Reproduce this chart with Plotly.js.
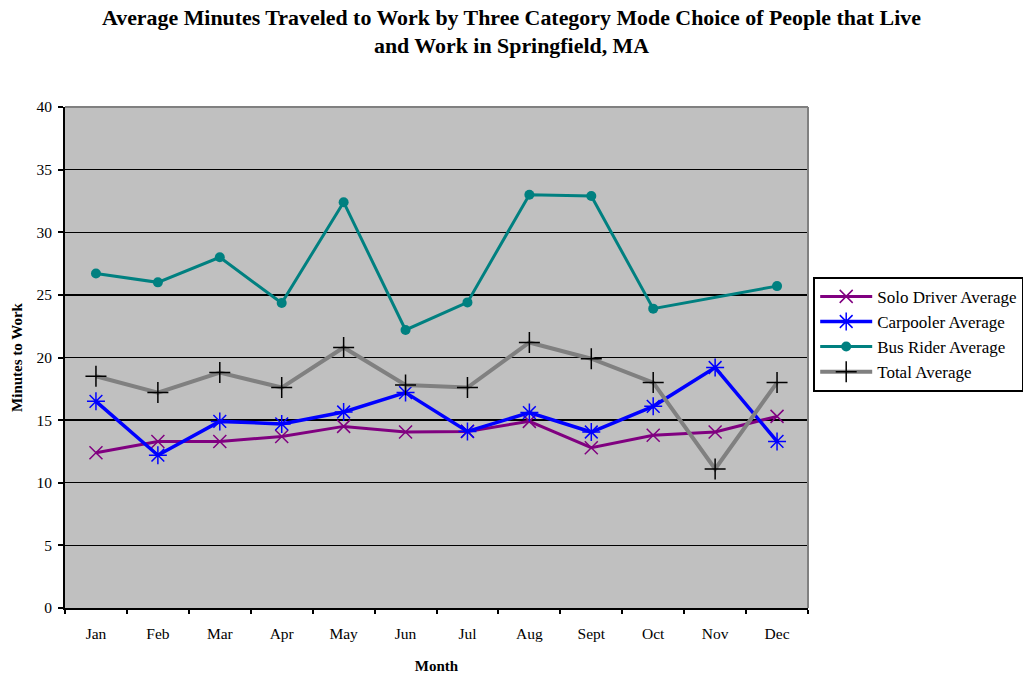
<!DOCTYPE html>
<html>
<head>
<meta charset="utf-8">
<script src="https://cdn.plot.ly/plotly-3.0.1.min.js"></script>
<style>
  html, body { margin: 0; padding: 0; background: #ffffff; }
  #chart { width: 1023px; height: 675px; }
</style>
</head>
<body>
<div id="chart"></div>
<script>
// Monthly averages of commute minutes by mode choice
const months = ["Jan", "Feb", "Mar", "Apr", "May", "Jun", "Jul", "Aug", "Sept", "Oct", "Nov", "Dec"];
const soloDriver = [12.4, 13.3, 13.3, 13.7, 14.5, 14.05, 14.1, 14.9, 12.8, 13.8, 14.05, 15.3];
const carpooler  = [16.5, 12.2, 14.9, 14.7, 15.65, 17.2, 14.1, 15.6, 14.05, 16.1, 19.2, 13.3];
const busRider   = [26.7, 26.0, 28.0, 24.35, 32.4, 22.2, 24.4, 33.0, 32.9, 23.9, null, 25.7];
const totalAvg   = [18.5, 17.2, 18.8, 17.6, 20.8, 17.8, 17.6, 21.2, 19.9, 18.0, 11.1, 18.0];
const yTicks = [0, 5, 10, 15, 20, 25, 30, 35, 40];

const serif = "Liberation Serif, Times New Roman, serif";

const traces = [
  {
    name: "Solo Driver Average", x: months, y: soloDriver, mode: "lines+markers",
    line: { color: "#800080", width: 3 },
    marker: { symbol: "x-thin-open", size: 13, color: "#800080", line: { color: "#800080", width: 1.5 } }
  },
  {
    name: "Carpooler Average", x: months, y: carpooler, mode: "lines+markers",
    line: { color: "#0000FF", width: 3.5 },
    marker: { symbol: "asterisk-open", size: 15, color: "#0000FF", line: { color: "#0000FF", width: 1.5 } }
  },
  {
    name: "Bus Rider Average", x: months, y: busRider, mode: "lines+markers", connectgaps: true,
    line: { color: "#008080", width: 3 },
    marker: { symbol: "circle", size: 10, color: "#008080" }
  },
  {
    name: "Total Average", x: months, y: totalAvg, mode: "lines+markers",
    line: { color: "#808080", width: 4 },
    marker: { symbol: "cross-thin-open", size: 15, color: "#000000", line: { color: "#000000", width: 1.5 } }
  }
];

const layout = {
  width: 1023, height: 675,
  margin: { l: 65, r: 215, t: 107, b: 67, autoexpand: false },
  paper_bgcolor: "#ffffff",
  plot_bgcolor: "#C0C0C0",
  font: { family: serif, size: 15, color: "#000000" },
  title: {
    text: "<b>Average Minutes Traveled to Work by Three Category Mode Choice of People that Live<br>and Work in Springfield, MA</b>",
    font: { family: serif, size: 21.9, color: "#000000" },
    x: 0.5, xanchor: "center", y: 0.963, yanchor: "top"
  },
  xaxis: {
    type: "category", range: [-0.5, 11.5],
    tickson: "boundaries", ticks: "outside", ticklen: 4, tickcolor: "#000000", tickwidth: 2,
    showline: true, linecolor: "#000000", linewidth: 2, mirror: false,
    showgrid: false, zeroline: false,
    ticklabelstandoff: 10,
    tickfont: { family: serif, size: 15.5 },
    title: { text: "<b>Month</b>", font: { family: serif, size: 15 }, standoff: 20 }
  },
  yaxis: {
    range: [0, 40], tickvals: yTicks, ticktext: yTicks.map(String),
    ticks: "outside", ticklen: 5, tickcolor: "#000000", tickwidth: 2,
    showline: true, linecolor: "#000000", linewidth: 2,
    showgrid: true, gridcolor: "#000000", gridwidth: 1.3, zeroline: false,
    ticklabelstandoff: 3,
    tickfont: { family: serif, size: 15.5 },
    title: { text: "<b>Minutes to Work</b>", font: { family: serif, size: 15 }, standoff: 10 }
  },
  showlegend: true,
  legend: {
    x: 1.007, xanchor: "left", y: 0.661, yanchor: "top",
    bgcolor: "#ffffff", bordercolor: "#000000", borderwidth: 2,
    font: { family: serif, size: 17, color: "#000000" },
    itemwidth: 52, tracegroupgap: 0
  },
  shapes: [
    { type: "line", xref: "paper", yref: "paper", x0: 1, x1: 1, y0: 0, y1: 1,
      line: { color: "#808080", width: 2 } },
    { type: "line", xref: "paper", yref: "paper", x0: 0, x1: 1, y0: 1, y1: 1,
      line: { color: "#808080", width: 2 } }
  ]
};

Plotly.newPlot("chart", traces, layout, { displayModeBar: false, staticPlot: true });
</script>
</body>
</html>
